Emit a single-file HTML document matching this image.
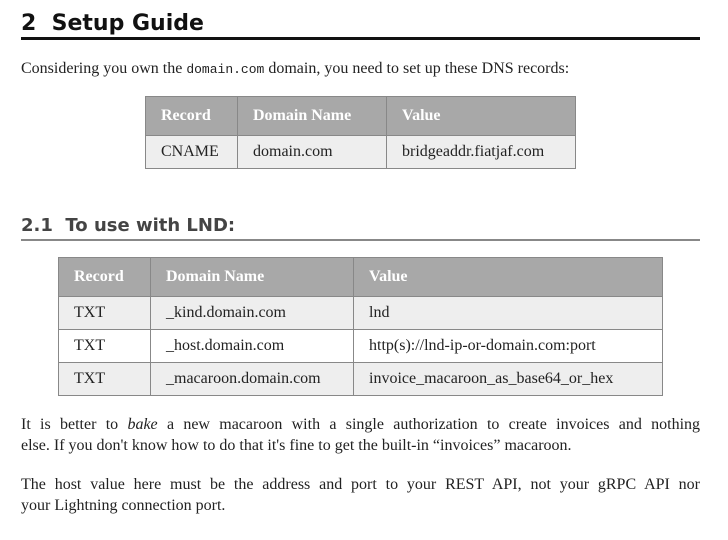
<!DOCTYPE html>
<html><head><style>
body{margin:0;width:728px;height:540px;background:#fff;position:relative;font-family:"Liberation Serif",serif;color:#222;overflow:hidden}
.a{position:absolute}
h1{position:absolute;left:21px;top:11px;margin:0;font:bold 22px "DejaVu Sans","Liberation Sans",sans-serif;color:#111;letter-spacing:0}
h2{position:absolute;left:21px;top:215px;margin:0;font:bold 18px "DejaVu Sans","Liberation Sans",sans-serif;color:#444}
p{position:absolute;left:21px;width:679px;margin:0;font-size:16px;line-height:21px}
.j{display:block;text-align:justify;text-align-last:justify;white-space:nowrap}
code{font-family:"Liberation Mono",monospace;font-size:13px}
table{position:absolute;border-collapse:collapse;font-size:16px}
td,th{border:1px solid #888;padding:0 15px;text-align:left;white-space:nowrap}
th{background:#a8a8a8;color:#fff;font-weight:bold;height:38px}
td{height:32px}
tr.g td{background:#eee}
</style></head><body>
<h1>2&nbsp; Setup Guide</h1>
<div class="a" style="left:21px;top:37px;width:679px;height:3px;background:#111"></div>
<p style="top:58px">Considering you own the <code>domain.com</code> domain, you need to set up these DNS records:</p>
<table style="left:145px;top:96px;width:431px">
<tr><th style="width:61px">Record</th><th style="width:118px">Domain Name</th><th>Value</th></tr>
<tr class="g"><td>CNAME</td><td>domain.com</td><td>bridgeaddr.fiatjaf.com</td></tr>
</table>
<h2>2.1&nbsp; To use with LND:</h2>
<div class="a" style="left:21px;top:239px;width:679px;height:2px;background:#888"></div>
<table style="left:58px;top:257px;width:605px">
<tr><th style="width:61px">Record</th><th style="width:172px">Domain Name</th><th>Value</th></tr>
<tr class="g"><td>TXT</td><td>_kind.domain.com</td><td>lnd</td></tr>
<tr><td>TXT</td><td>_host.domain.com</td><td>http(s)://lnd-ip-or-domain.com:port</td></tr>
<tr class="g"><td>TXT</td><td>_macaroon.domain.com</td><td>invoice_macaroon_as_base64_or_hex</td></tr>
</table>
<p style="top:414px"><span class="j">It is better to <i>bake</i> a new macaroon with a single authorization to create invoices and nothing</span>else. If you don't know how to do that it's fine to get the built-in “invoices” macaroon.</p>
<p style="top:474px"><span class="j">The host value here must be the address and port to your REST API, not your gRPC API nor</span>your Lightning connection port.</p>
</body></html>
